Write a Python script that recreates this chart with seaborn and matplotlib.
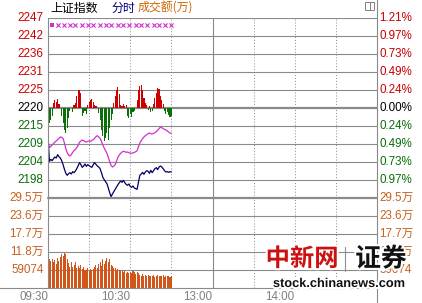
import numpy as np
import pandas as pd
import matplotlib
matplotlib.use('Agg')
import matplotlib.pyplot as plt
import seaborn as sns
from matplotlib.lines import Line2D
from matplotlib.patches import Rectangle
import matplotlib.patheffects as pe

sns.set_theme(style='white')
plt.rcParams['font.family'] = ['Liberation Sans', 'Noto Sans CJK SC', 'DejaVu Sans']

# ---------------- data ----------------
MINUTES = list(range(91))  # minutes after 09:30

INDEX_LINE = [2212.0, 2204.0, 2204.6, 2204.2, 2204.8, 2205.3, 2205.0, 2206.0, 2205.4, 2205.0,
              2204.2, 2203.0, 2201.6, 2200.4, 2199.8, 2200.3, 2200.6, 2200.2, 2200.9, 2200.6,
              2201.1, 2201.8, 2202.7, 2203.6, 2203.0, 2202.2, 2202.6, 2203.2, 2202.5, 2203.0,
              2202.7, 2202.4, 2202.2, 2203.0, 2203.6, 2203.1, 2202.6, 2202.3, 2201.8, 2200.6,
              2199.2, 2198.5, 2197.9, 2197.3, 2196.0, 2194.6, 2193.4, 2194.2, 2194.9, 2195.6,
              2196.3, 2197.0, 2197.6, 2198.1, 2197.7, 2198.3, 2197.6, 2197.1, 2196.8, 2197.2,
              2196.5, 2196.2, 2196.6, 2196.0, 2195.8, 2195.6, 2197.8, 2199.8, 2200.2, 2200.7,
              2200.1, 2200.8, 2201.2, 2201.0, 2200.4, 2201.3, 2200.6, 2201.2, 2201.8, 2202.1,
              2201.5, 2202.3, 2202.6, 2202.3, 2201.8, 2201.2, 2200.8, 2200.9, 2200.7, 2200.9,
              2200.8]

LEAD_LINE = [2209.6, 2208.2, 2208.4, 2208.9, 2209.3, 2209.8, 2210.1, 2210.5, 2210.9, 2211.3,
             2211.2, 2210.8, 2209.5, 2207.8, 2206.6, 2205.9, 2205.6, 2206.0, 2206.7, 2207.2,
             2207.6, 2208.1, 2208.9, 2209.7, 2210.1, 2210.4, 2210.2, 2209.9, 2209.8, 2210.0,
             2210.1, 2210.0, 2210.3, 2210.5, 2210.9, 2211.4, 2211.7, 2211.3, 2210.9, 2210.0,
             2208.9, 2208.0, 2207.2, 2206.4, 2205.2, 2203.9, 2202.8, 2202.3, 2202.6, 2203.0,
             2204.1, 2205.2, 2205.9, 2206.4, 2206.8, 2207.0, 2206.9, 2206.7, 2206.8, 2206.6,
             2206.4, 2206.5, 2206.5, 2206.7, 2206.9, 2207.2, 2208.4, 2209.5, 2210.2, 2210.8,
             2211.3, 2211.7, 2212.0, 2212.3, 2212.5, 2212.3, 2212.2, 2212.4, 2212.6, 2212.9,
             2213.3, 2213.8, 2214.3, 2214.1, 2213.8, 2213.6, 2213.4, 2213.1, 2212.8, 2212.5,
             2212.4]

STRENGTH = [-7.8, -4.5, -3.6, -2.4, 1.5, 2.4, 1.8, 2.7, 1.2, 0.0,
            -2.4, -4.5, -6.6, -7.5, -6.0, -3.0, -0.9, 0.0, -1.2, 0.9,
            1.5, 3.6, 5.4, 5.4, 4.5, -2.4, -1.5, -0.9, -1.8, 0.9,
            1.8, 2.4, 2.7, 1.8, 0.9, 0.6, 0.0, -1.5, -3.6, -6.6,
            -8.4, -9.9, -9.0, -7.5, -9.6, -6.0, -3.6, -1.8, 1.5, 3.6,
            5.4, 6.3, 4.2, 0.9, 0.6, 1.2, 0.6, 0.9, -2.4, -3.0,
            -1.8, -2.7, -1.2, -0.9, 0.0, 2.4, 5.4, 6.6, 6.9, 5.4,
            3.0, 1.5, 0.9, -0.6, 0.6, -1.2, -0.9, 1.2, 3.0, 4.5,
            6.0, 5.7, 3.6, 2.4, 1.2, -0.9, -1.8, -1.2, -2.1, -2.7,
            -2.4]

VOLUME_WAN = [26.9,
              9.5, 8.8, 9.6, 8.6, 9.2, 8.0, 9.8, 8.9,
              10.2, 11.0, 10.5, 11.5, 11.3, 9.5,
              8.2, 7.0, 8.6, 6.8, 7.6, 8.4, 6.5, 7.2, 6.6, 7.4, 6.2,
              6.8, 6.0, 5.8, 6.5, 5.6, 6.3,
              5.8, 6.2, 6.9, 7.5, 6.7, 7.8, 8.6, 7.2, 9.4, 8.0, 8.8, 9.8, 8.5, 9.6, 7.4,
              7.2, 6.4, 6.5, 6.0, 6.3, 5.9,
              5.5, 5.8, 5.2, 5.6, 4.9, 5.4, 5.0, 5.3, 4.8, 5.5, 5.1, 4.7, 5.2, 4.9,
              4.4, 4.1, 4.5, 3.9, 4.2, 4.0, 4.3, 3.8, 4.1, 3.9, 4.4, 3.7, 4.0, 4.2,
              3.8, 4.1, 3.9, 4.3, 3.7, 4.0, 3.8, 4.1, 3.6, 3.9]

MARK_MINUTES = [3, 7, 12, 16, 20, 25, 29, 33, 38, 42, 46, 51, 55, 59, 64, 68, 72, 77, 81, 85, 90]
MARK_LEVEL = 2244.8

BASE = 2220.0
PRICE_LEVELS = [2247.0, 2241.6, 2236.2, 2230.8, 2225.4, 2220.0, 2214.6, 2209.2, 2203.8, 2198.4]
PRICE_LABELS = ['2247', '2242', '2236', '2231', '2225', '2220', '2215', '2209', '2204', '2198']
PCT_LABELS = ['1.21%', '0.97%', '0.73%', '0.49%', '0.24%', '0.00%', '0.24%', '0.49%', '0.73%', '0.97%']
VOL_LEVELS = [29.537, 23.6296, 17.7222, 11.8148, 5.9074]
VOL_LABELS = ['29.5万', '23.6万', '17.7万', '11.8万', '59074']
TIME_POS = [0, 60, 120, 180]
TIME_LABELS = ['09:30', '10:30', '13:00', '14:00']

# ---------------- figure ----------------
W, H = 422, 303
fig = plt.figure(figsize=(W / 100, H / 100), dpi=100)
fig.patch.set_facecolor('white')

def fx(px):
    return px / W

def fy(py):
    return 1 - py / H

L, R = 48, 377
ax1 = fig.add_axes([fx(L), fy(198), (R - L) / W, 180 / H])
ax2 = fig.add_axes([fx(L), fy(288), (R - L) / W, 90 / H])
for ax in (ax1, ax2):
    ax.set_axis_off()
    ax.set_xlim(0, 240)
ax1.set_ylim(2193, 2247)
ax2.set_ylim(0, 29.537)

GRID = '#8a8a8a'
RED = '#CC0000'
GREEN = '#0A6E0A'
ORANGE = '#C8601E'
VOLC = '#D2561A'

# grid
for lvl in PRICE_LEVELS:
    ax1.axhline(lvl, color=GRID, lw=1.6 if lvl == BASE else 0.8, zorder=1)
for lvl in VOL_LEVELS[1:]:
    ax2.axhline(lvl, color=GRID, lw=0.8, zorder=1)
for ax in (ax1, ax2):
    for m in [30, 60, 90, 150, 180, 210]:
        ax.axvline(m, color=GRID, lw=0.7, ls=(0, (1, 2)), zorder=1)
    ax.axvline(120, color=GRID, lw=0.8, zorder=1)

# strength bars around base
df = pd.DataFrame({'minute': MINUTES, 'index': INDEX_LINE, 'lead': LEAD_LINE,
                   'strength': STRENGTH, 'volume': VOLUME_WAN})
bar_colors = [RED if v > 0 else GREEN for v in df['strength']]
ax1.bar(df['minute'], df['strength'], bottom=BASE, width=0.8, color=bar_colors,
        linewidth=0, zorder=2)

sns.lineplot(data=df, x='minute', y='lead', ax=ax1, color='#D030D0', lw=0.9, zorder=3)
sns.lineplot(data=df, x='minute', y='index', ax=ax1, color='#000066', lw=0.9, zorder=4)
sns.scatterplot(x=MARK_MINUTES[1:], y=[MARK_LEVEL] * (len(MARK_MINUTES) - 1), ax=ax1,
                marker='x', s=9, color='#D030D0', linewidth=0.8, zorder=4)
sns.scatterplot(x=MARK_MINUTES[:1], y=[MARK_LEVEL], ax=ax1, marker='s', s=8,
                color='#D030D0', linewidth=0, zorder=4)
ax1.set_xlim(0, 240)
ax1.set_ylim(2193, 2247)

ax2.bar(df['minute'], df['volume'], width=0.75, color=VOLC, linewidth=0, zorder=2)
ax2.set_xlim(0, 240)
ax2.set_ylim(0, 29.537)

# labels
FS = 8.4
ytr1 = ax1.get_yaxis_transform()
for i, (lvl, lab, pct) in enumerate(zip(PRICE_LEVELS, PRICE_LABELS, PCT_LABELS)):
    c = RED if lvl > BASE else ('black' if lvl == BASE else GREEN)
    ax1.text(-0.013, lvl, lab, transform=ytr1, ha='right', va='center', fontsize=FS, color=c, clip_on=False)
    ax1.text(1.008, lvl, pct, transform=ytr1, ha='left', va='center', fontsize=FS, color=c, clip_on=False)
ytr2 = ax2.get_yaxis_transform()
for lvl, lab in zip(VOL_LEVELS, VOL_LABELS):
    ax2.text(-0.013, lvl, lab, transform=ytr2, ha='right', va='center', fontsize=FS, color=ORANGE, clip_on=False)
    ax2.text(1.008, lvl, lab, transform=ytr2, ha='left', va='center', fontsize=FS, color=ORANGE, clip_on=False)

xtr = ax2.get_xaxis_transform()
for pos, lab in zip(TIME_POS, TIME_LABELS):
    ax2.text(pos, -9 / 90, lab, transform=xtr, ha='right', va='center', fontsize=FS,
             color='#808080', clip_on=False)

# frame lines
fig.add_artist(Line2D([fx(0), fx(R)], [fy(288), fy(288)], color=GRID, lw=0.8))
fig.add_artist(Line2D([fx(L), fx(R)], [fy(198), fy(198)], color=GRID, lw=1.6))
fig.add_artist(Line2D([fx(L), fx(L)], [fy(18), fy(288)], color=GRID, lw=0.8))
fig.add_artist(Line2D([fx(R), fx(R)], [fy(0), fy(303)], color=GRID, lw=0.8))

# title
TFS = 8.6
tf = ['Noto Sans CJK SC', 'DejaVu Sans']
fig.text(fx(50), fy(8), '上证指数', ha='left', va='center', fontsize=TFS, color='black', family=tf)
fig.text(fx(111), fy(8), '分时', ha='left', va='center', fontsize=TFS, color='#000080', family=tf)
fig.text(fx(138), fy(8), '成交额(万)', ha='left', va='center', fontsize=TFS, color='#CC6600', family=tf)

# small icon
fig.add_artist(Rectangle((fx(365), fy(10)), fx(9), 8 / H, fill=False, edgecolor='#808080', lw=0.7))
fig.add_artist(Line2D([fx(370), fx(370)], [fy(10), fy(2)], color='#808080', lw=0.7))

# watermark
halo = [pe.withStroke(linewidth=3, foreground='white')]
fig.text(fx(302), fy(259), '中新网', ha='center', va='center', fontsize=17.5, color='#CC1111',
         family=tf, fontweight='bold', path_effects=halo)
fig.add_artist(Line2D([fx(345), fx(345)], [fy(247), fy(271)], color='#909090', lw=0.8))
fig.text(fx(381), fy(259), '证券', ha='center', va='center', fontsize=18.5, color='#111111',
         family=tf, fontweight='bold', path_effects=halo)
fig.text(fx(339), fy(284), 'stock.chinanews.com', ha='center', va='center', fontsize=9.2,
         color='#111111', fontweight='bold', path_effects=halo)

fig.savefig('out.png', dpi=100, facecolor='white')
